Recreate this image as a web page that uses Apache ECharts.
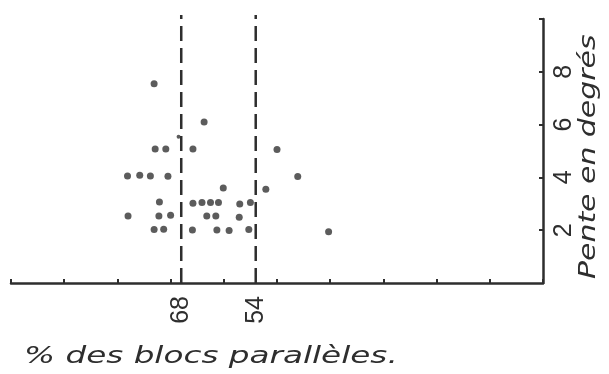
<!DOCTYPE html>
<html>
<head>
<meta charset="utf-8">
<script src="https://cdn.jsdelivr.net/npm/echarts@6/dist/echarts.min.js"></script>
<style>html,body{margin:0;padding:0;background:#fff;}#c{width:609px;height:374px;}</style>
</head>
<body>
<div id="c"></div>
<script>
// % des blocs parallèles (x) vs Pente en degrés (y)
const pointsX = [73.1, 63.7, 72.9, 70.9, 65.8, 50.0, 78.1, 75.8, 73.8, 70.5, 46.1, 60.1, 52.1, 72.1, 65.8, 64.1, 62.5, 61.0, 57.0, 55.0, 78.0, 72.2, 70.0, 63.2, 61.5, 57.1, 73.1, 71.3, 65.9, 61.3, 59.0, 55.3, 40.3];
const pointsY = [7.55, 6.1, 5.08, 5.08, 5.08, 5.06, 4.05, 4.08, 4.05, 4.04, 4.03, 3.6, 3.55, 3.07, 3.02, 3.05, 3.05, 3.05, 2.99, 3.05, 2.54, 2.54, 2.57, 2.54, 2.54, 2.49, 2.03, 2.04, 2.01, 2.01, 1.99, 2.03, 1.94];
const smallX = [68.5];
const smallY = [5.54];
const limitValues = [68, 54];
const limitTop = 10.15;
const xTickValues = [0, 10, 20, 30, 40, 50, 60, 70, 80, 90, 100];
const yLabelValues = [2, 4, 6, 8];
const yTickValues = [2, 4, 6, 8, 10];
const xTitle = '% des blocs parallèles.';
const yTitle = 'Pente en degrés';

const ink = '#2e2e2e';
const chart = echarts.init(document.getElementById('c'), null, {renderer: 'canvas'});
const limitSeries = limitValues.map(v => ({
  type: 'line', clip: false, symbol: 'none', silent: true,
  lineStyle: {color: ink, width: 2.5, type: [15, 7]},
  data: [[v, 0], [v, limitTop]]
}));
chart.setOption({
  backgroundColor: '#ffffff',
  animation: false,
  graphic: [
    {
      type: 'text', left: 24, top: 346, scaleX: 1.42,
      style: {text: xTitle, fill: ink, font: 'italic 23px "DejaVu Sans"'}
    },
    {
      type: 'text', x: 578, y: 279, rotation: Math.PI / 2, scaleX: 1.3,
      style: {text: yTitle, fill: ink, font: 'italic 23px "DejaVu Sans"', textVerticalAlign: 'top'}
    }
  ],
  grid: {left: 11, right: 66, top: 19, bottom: 91, outerBoundsMode: 'none', containLabel: false},
  xAxis: {
    type: 'value', min: 0, max: 100, inverse: true,
    axisLine: {lineStyle: {color: ink, width: 2.5}},
    axisTick: {inside: true, length: 4, customValues: xTickValues, lineStyle: {color: ink, width: 2}},
    axisLabel: {customValues: limitValues, rotate: 90, margin: 13, fontFamily: 'Liberation Sans', fontSize: 25, color: ink},
    splitLine: {show: false}
  },
  yAxis: {
    type: 'value', min: 0, max: 10, position: 'right',
    axisLine: {lineStyle: {color: ink, width: 2.5}},
    axisTick: {inside: true, length: 4, customValues: yTickValues, lineStyle: {color: ink, width: 2}},
    axisLabel: {customValues: yLabelValues, rotate: 90, margin: 9, fontFamily: 'Liberation Sans', fontSize: 25, color: ink},
    splitLine: {show: false}
  },
  series: [
    {
      type: 'scatter', symbol: 'circle', symbolSize: 7,
      itemStyle: {color: '#333333'},
      data: pointsX.map((x, i) => [x, pointsY[i]])
    },
    {
      type: 'scatter', symbol: 'circle', symbolSize: 4,
      itemStyle: {color: '#333333'},
      data: smallX.map((x, i) => [x, smallY[i]])
    }
  ].concat(limitSeries)
});
</script>
</body>
</html>
